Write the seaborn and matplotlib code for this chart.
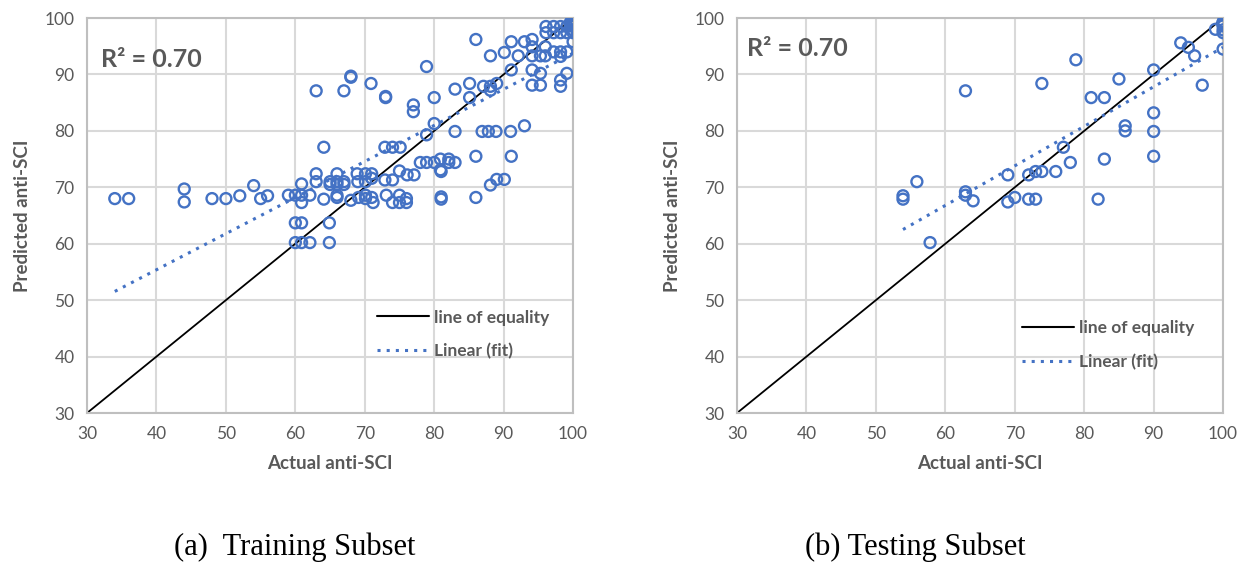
import numpy as np
import pandas as pd
import matplotlib
matplotlib.use("Agg")
import matplotlib.pyplot as plt
import seaborn as sns
from matplotlib.lines import Line2D

# ---------------- data ----------------
train_actual = [34, 36, 44, 44, 48, 50, 52, 54, 55, 56,
                59, 60, 60.9, 62.1, 60.9, 60.9,
                60, 60.9, 64.9, 60, 60.9, 62.1, 64.9,
                63, 67, 68, 68, 70.9, 73, 73,
                64.1, 72.9, 74, 75.1,
                63, 66, 68.9, 70.1, 71,
                63, 65, 66, 67, 69, 70.1, 72.9, 74,
                65, 66, 67, 71,
                64.1, 66, 66, 68, 69.1, 70.1, 70.1, 71, 71.2,
                73.1, 74, 75, 75, 76, 76,
                75, 76.1, 77.1,
                77, 77, 78.9, 80, 83, 85.1, 85.1,
                87.1, 88.1, 88.1, 89, 86, 88.1, 90.1, 91.1, 91.1, 92.1,
                93, 94.1, 94.1, 94.1, 95.3, 96, 96, 94.1, 95.3, 94.1, 95.3,
                96.1, 97.2, 98.2, 99.1, 96.1, 97.2, 98.2, 99.1,
                100, 100, 100, 100, 100,
                97.2, 98.2, 99.1, 98.2,
                99.1, 98.2, 98.2,
                93,
                78.9, 80,
                83, 86.9, 87.8, 88.9, 91,
                86, 91.1,
                78, 78.9, 80, 80.9, 82.1, 82.1, 83, 80.9, 81,
                81, 81, 86,
                88.1, 89, 90.1,
                100, 100, 100, 100, 100, 100, 99.8, 99.8, 99.8, 99.6, 99.6, 99.6, 100, 100]
train_pred = [68, 68, 69.7, 67.4, 68, 68, 68.5, 70.3, 68, 68.5,
              68.6, 68.6, 68.6, 68.6, 67.3, 70.6,
              63.7, 63.7, 63.7, 60.2, 60.2, 60.2, 60.2,
              87.1, 87.1, 89.7, 89.5, 88.4, 86.1, 85.9,
              77.1, 77.1, 77.1, 77.1,
              72.4, 72.4, 72.4, 72.4, 72.4,
              71, 71, 71, 71, 71, 71, 71.3, 71.3,
              70.5, 70.5, 70.5, 71.6,
              67.9, 68.6, 68.2, 67.7, 68.2, 68.6, 68, 68.2, 67.3,
              68.6, 67.3, 68.6, 67.3, 68, 67.3,
              72.9, 72.2, 72.2,
              84.6, 83.4, 91.4, 85.9, 87.4, 88.4, 85.9,
              87.9, 87.9, 87.2, 88.4, 96.2, 93.3, 93.9, 95.8, 90.8, 93.3,
              95.8, 96.2, 94.9, 93.3, 93.3, 94.9, 93.3, 90.8, 90.2, 88.1, 88.1,
              98.5, 98.5, 98.5, 98.5, 97.4, 97.4, 97.4, 97.4,
              99.3, 98.5, 97.9, 97.4, 95.8,
              94, 94, 94, 93.2,
              90.2, 89, 87.9,
              80.9,
              79.3, 81.3,
              79.9, 79.9, 79.9, 79.9, 79.9,
              75.5, 75.5,
              74.4, 74.4, 74.4, 75, 75, 74.4, 74.4, 73.1, 72.8,
              68.3, 67.9, 68.2,
              70.4, 71.4, 71.4,
              99.0, 99.2, 98.8, 99.4, 98.6, 99.0, 99.1, 98.9, 99.3, 99.0, 98.7, 99.2, 99.0, 98.9]

test_actual = [53.9, 53.9, 55.9, 57.8, 62.9, 62.9, 64.0, 62.9,
               69.0, 69.0, 70.0, 72.0, 73.0, 73.9, 72.0, 73.0, 73.9,
               75.9, 77.0, 78.0, 78.8, 81.0, 82.9, 82.9, 82.0, 85.0,
               85.9, 85.9, 90.0, 90.0, 90.0, 90.0, 93.9, 95.0, 95.9,
               97.0, 98.9, 100, 100, 100, 100, 100,
               100, 100, 100]
test_pred = [68.5, 67.9, 71.0, 60.2, 69.2, 68.6, 67.6, 87.1,
             72.2, 67.4, 68.2, 72.2, 72.8, 72.8, 67.9, 67.9, 88.4,
             72.8, 77.1, 74.4, 92.6, 85.9, 85.9, 75.0, 67.9, 89.2,
             80.9, 80.0, 90.8, 83.2, 79.9, 75.5, 95.6, 94.8, 93.3,
             88.1, 98.0, 99.2, 98.6, 97.9, 97.4, 94.5,
             99.0, 98.8, 99.3]

r2_label = "R² = 0.70"
legend_labels = ["line of equality", "Linear (fit)"]
x_label = "Actual anti-SCI"
y_label = "Predicted anti-SCI"
captions = ["(a)  Training Subset", "(b) Testing Subset"]
ticks = [30, 40, 50, 60, 70, 80, 90, 100]

# ---------------- style ----------------
sns.set_theme(style="white")
plt.rcParams['font.family'] = ['Lato', 'DejaVu Sans']

BLUE = "#4472C4"
GRAY_TXT = "#595959"
GRID = "#d9d9d9"

fig = plt.figure(figsize=(12.45, 5.67), dpi=100)
ax1 = fig.add_axes([0.0699, 0.2716, 0.3904, 0.6966])
ax2 = fig.add_axes([0.5920, 0.2716, 0.3904, 0.6966])

panels = [
    (ax1, train_actual, train_pred, (0.597, 0.262), (0.029, 0.896)),
    (ax2, test_actual, test_pred, (0.586, 0.235), (0.021, 0.924)),
]

for ax, xa, ya, leg_pos, r2_pos in panels:
    df = pd.DataFrame({"actual": xa, "pred": ya})
    ax.set_xlim(30, 100)
    ax.set_ylim(30, 100)
    ax.set_xticks(ticks)
    ax.set_yticks(ticks)
    ax.grid(True, color=GRID, linewidth=1.5, zorder=0)
    ax.set_axisbelow(True)
    for sp in ax.spines.values():
        sp.set_color("#bfbfbf")
        sp.set_linewidth(1.5)
    ax.tick_params(axis='both', length=0, labelsize=12.5, labelcolor=GRAY_TXT, pad=9)

    # line of equality
    sns.lineplot(x=[30, 100], y=[30, 100], ax=ax, color="black", linewidth=1.3, zorder=2)
    # linear fit
    sns.regplot(data=df, x="actual", y="pred", ax=ax, scatter=False, ci=None,
                truncate=True,
                line_kws=dict(color=BLUE, linestyle=(0, (1, 2)), linewidth=2.2, zorder=3))
    # points
    sns.scatterplot(data=df, x="actual", y="pred", ax=ax, marker="o", s=62,
                    facecolor="none", edgecolor=BLUE, linewidth=1.7, zorder=4)

    ax.set_xlabel(x_label, fontsize=13.5, fontweight="bold", color=GRAY_TXT, labelpad=10)
    ax.set_ylabel(y_label, fontsize=13.5, fontweight="bold", color=GRAY_TXT, labelpad=10)

    ax.text(r2_pos[0], r2_pos[1], r2_label, transform=ax.transAxes, fontsize=18,
            fontweight="bold", color=GRAY_TXT, va="center", ha="left")

    handles = [Line2D([], [], color="black", linewidth=1.5),
               Line2D([], [], color=BLUE, linestyle=(0, (1, 2)), linewidth=2.2)]
    leg = ax.legend(handles, legend_labels, loc="upper left", bbox_to_anchor=leg_pos,
                    frameon=False, handlelength=3.0, handletextpad=0.3,
                    labelspacing=1.0, borderpad=0, borderaxespad=0,
                    prop=dict(size=12.5, weight="bold"))
    for t in leg.get_texts():
        t.set_color(GRAY_TXT)

fig.text(0.237, 0.034, captions[0], family="Liberation Serif", fontsize=22,
         ha="center", va="center", color="black")
fig.text(0.735, 0.034, captions[1], family="Liberation Serif", fontsize=22,
         ha="center", va="center", color="black")

fig.savefig("out.png", dpi=100, facecolor="white")
